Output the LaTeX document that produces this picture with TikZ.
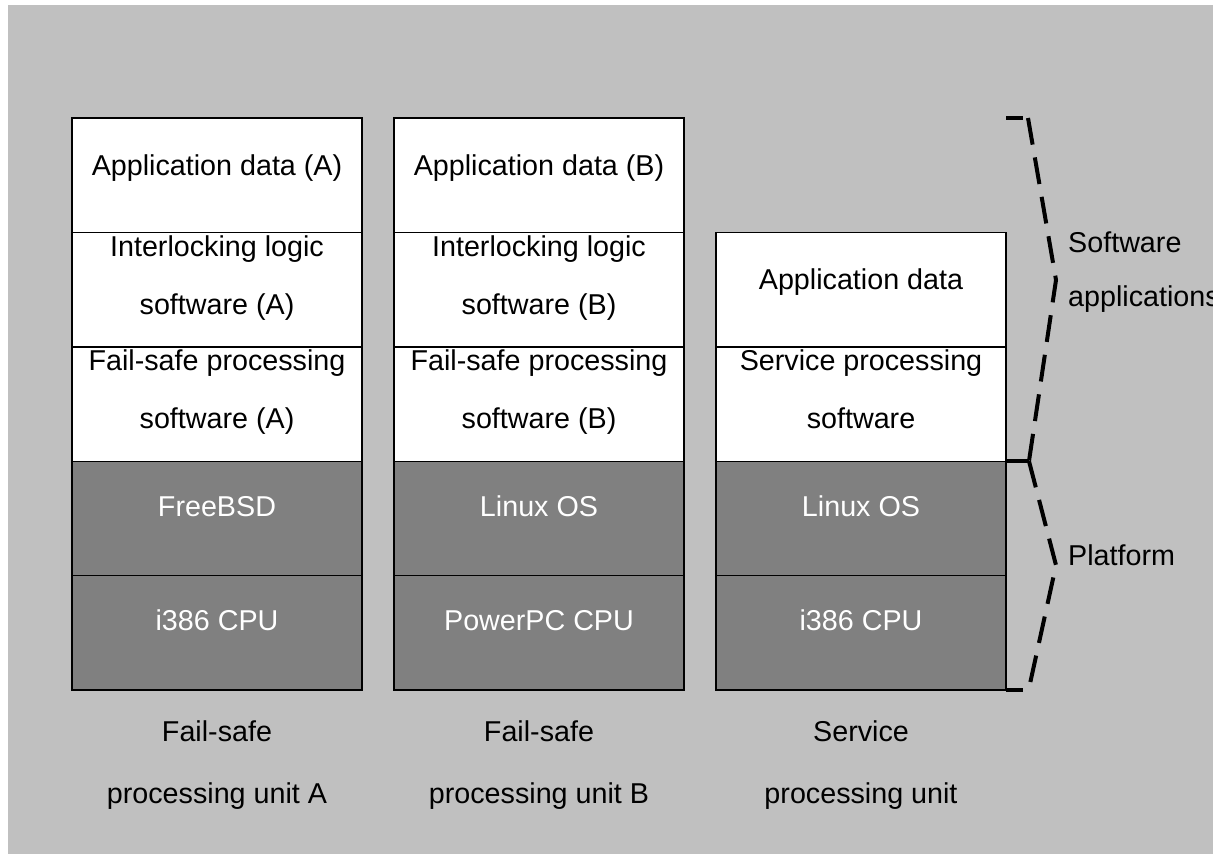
\documentclass[tikz,border=0pt]{standalone}
\usepackage{fontspec}
\setmainfont{Liberation Sans}
\usetikzlibrary{positioning}

\definecolor{panelgray}{HTML}{C0C0C0}
\definecolor{platgray}{HTML}{808080}

\begin{document}
\begin{tikzpicture}[x=1pt, y=-1pt,
                layer/.style={rectangle, draw=black, line width=1.4pt, fill=white, minimum width=290pt, minimum height=114.4pt, inner sep=0pt, outer sep=0pt, align=center, font=\fontsize{28.7pt}{58pt}\selectfont},
                soft/.style={layer, text height=57pt, text depth=57.4pt},
                softtwo/.style={layer, text height=82pt, text depth=32.4pt},
                plat/.style={layer, fill=platgray, text=white, text height=55pt, text depth=59.4pt},
                unit/.style={align=center, inner sep=0pt, font=\fontsize{28.7pt}{62pt}\selectfont},
                side/.style={align=left, inner sep=0pt, font=\fontsize{28.7pt}{54pt}\selectfont},
                brace/.style={line width=4pt, dash pattern=on 27pt off 13pt},
                bracetick/.style={line width=4pt}
            ]
            \useasboundingbox (0,0) rectangle (1213,854);
            \fill[white] (0,0) rectangle (1213,854);
            \fill[panelgray] (8,5) rectangle (1213,854);

            % unit A
            \node (AppA) [soft, anchor=north west] at (72,118) {Application data (A)};
            \node (LogicA) [softtwo, below=0pt of AppA] {Interlocking logic\\software (A)};
            \node (FailA) [softtwo, below=0pt of LogicA] {Fail-safe processing\\software (A)};
            \node (OsA) [plat, below=0pt of FailA] {FreeBSD};
            \node (CpuA) [plat, below=0pt of OsA] {i386 CPU};

            % unit B
            \node (AppB) [soft, right=32pt of AppA] {Application data (B)};
            \node (LogicB) [softtwo, below=0pt of AppB] {Interlocking logic\\software (B)};
            \node (FailB) [softtwo, below=0pt of LogicB] {Fail-safe processing\\software (B)};
            \node (OsB) [plat, below=0pt of FailB] {Linux OS};
            \node (CpuB) [plat, below=0pt of OsB] {PowerPC CPU};

            % service unit
            \node (AppC) [soft, right=32pt of LogicB] {Application data};
            \node (SrvC) [softtwo, below=0pt of AppC] {Service processing\\software};
            \node (OsC) [plat, below=0pt of SrvC] {Linux OS};
            \node (CpuC) [plat, below=0pt of OsC] {i386 CPU};

            \node (UnitA) [unit, anchor=base] at ([yshift=-113pt]CpuA.south) {Fail-safe\\processing unit A};
            \node (UnitB) [unit, anchor=base] at ([yshift=-113pt]CpuB.south) {Fail-safe\\processing unit B};
            \node (UnitC) [unit, anchor=base] at ([yshift=-113pt]CpuC.south) {Service\\processing unit};

            % braces
            \draw[bracetick] (AppC.east |- AppA.north) -- ++(17,0);
            \draw[brace] ([xshift=22pt]AppC.east |- AppA.north) -- ++(28,162) -- ++(-27,181);
            \draw[bracetick] (OsC.north east) -- ++(23,0);
            \draw[brace] ([xshift=23pt]OsC.north east) -- ++(27,104) -- ++(-27,123);
            \draw[bracetick] (CpuC.south east) -- ++(17,0);
            \node (SoftLabel) [side, anchor=base west] at ([xshift=62pt, yshift=-17pt]AppC.east) {Software\\applications};
            \node (PlatLabel) [side, anchor=base west] at ([xshift=62pt, yshift=10pt]OsC.south east) {Platform};
\end{tikzpicture}
\end{document}
